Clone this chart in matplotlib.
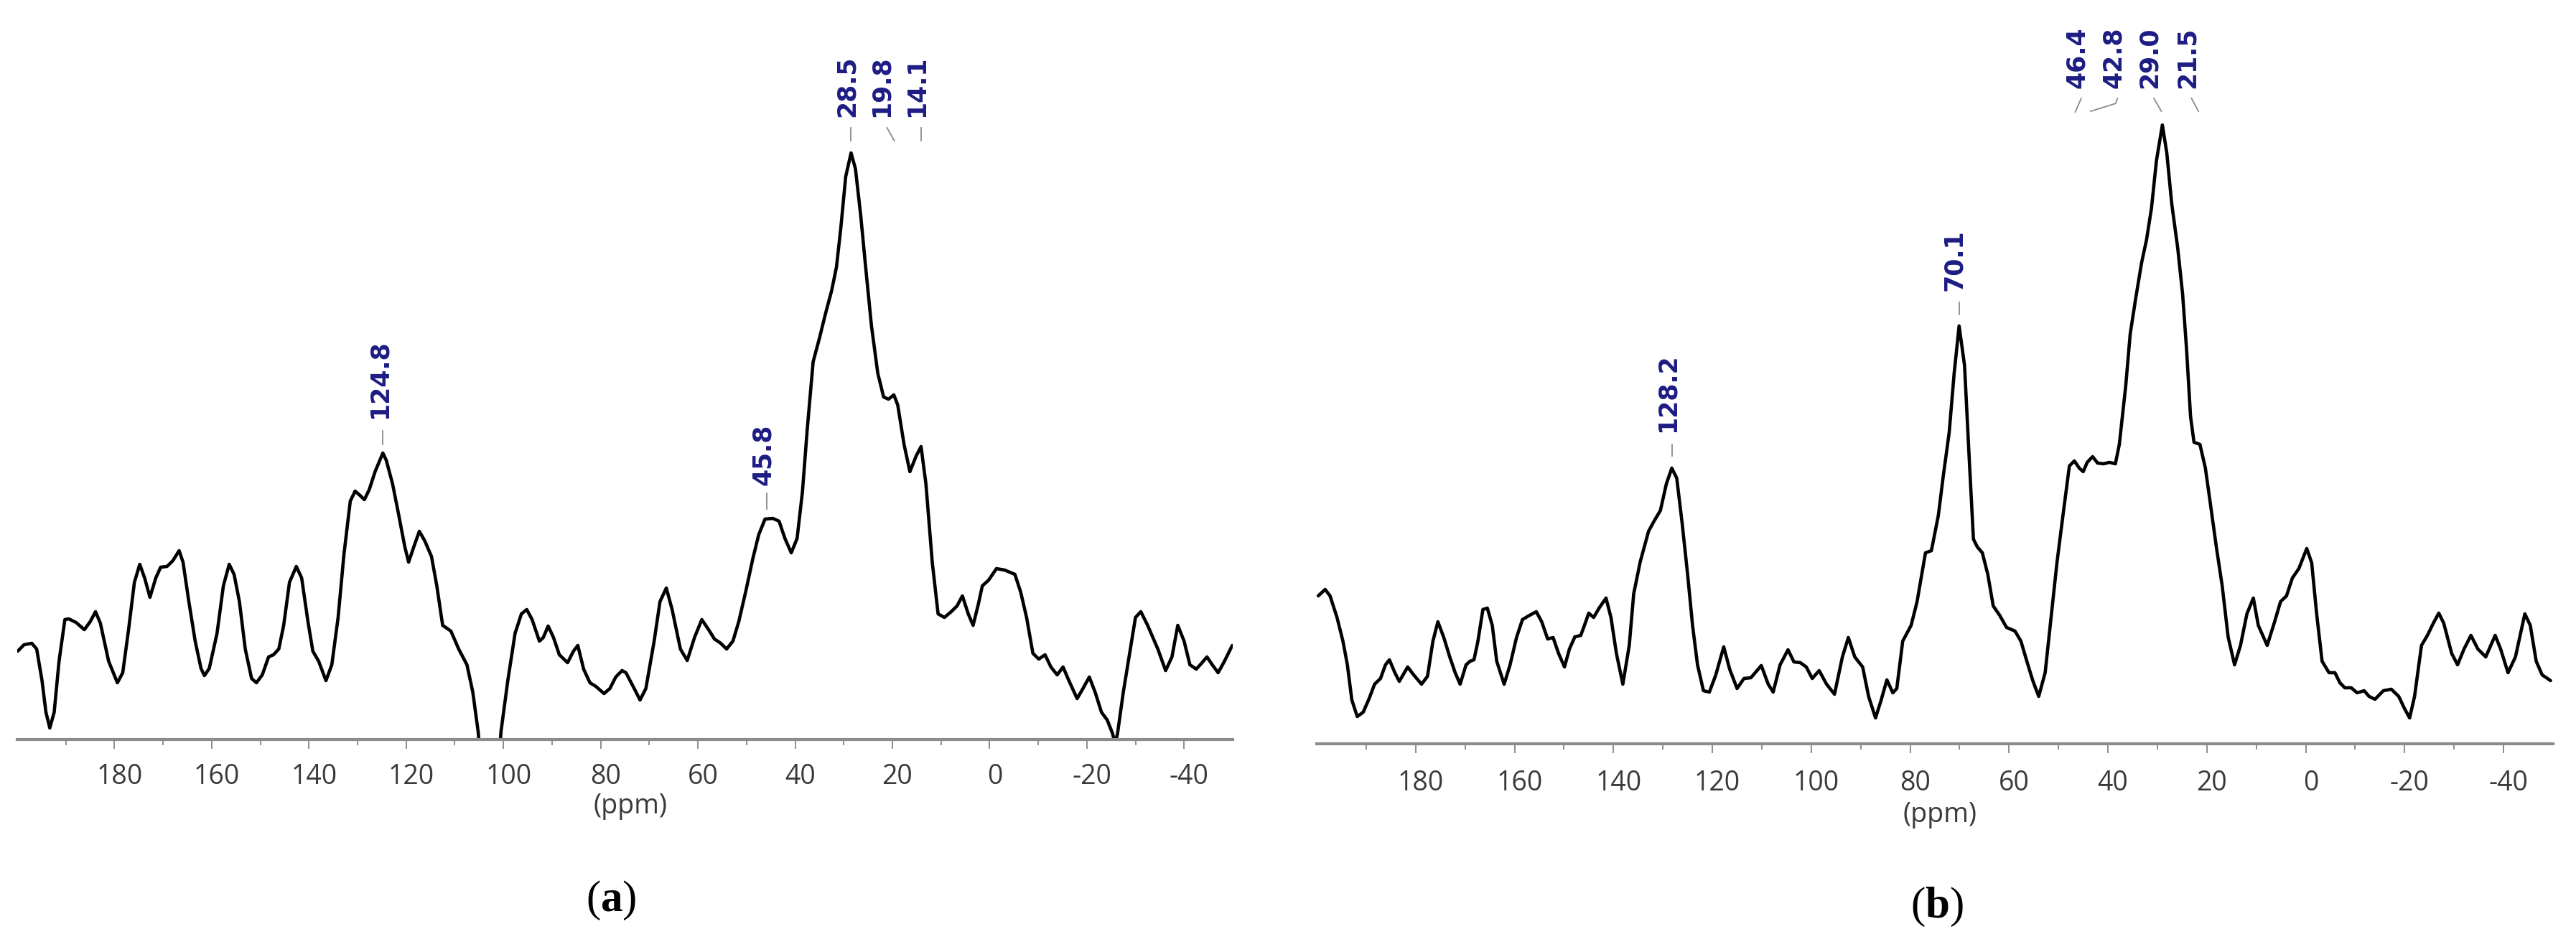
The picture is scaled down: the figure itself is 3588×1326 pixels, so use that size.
import matplotlib
matplotlib.use("Agg")
import matplotlib.pyplot as plt
from matplotlib.transforms import ScaledTranslation

# ---------------- data ----------------
ppm_a = [199.9, 198.6, 197.0, 196.0, 194.9, 194.1, 193.3, 192.4, 191.4, 190.2,
         189.4, 187.9, 186.2, 185.0, 183.9, 182.9, 181.2, 179.4, 178.3, 177.1,
         175.9, 174.8, 173.8, 172.7, 171.5, 170.5, 169.2, 168.0, 166.7, 165.9,
         164.7, 163.4, 162.2, 161.5, 160.5, 158.9, 157.6, 156.4, 155.4, 154.3,
         153.1, 151.8, 150.8, 149.6, 148.3, 147.3, 146.2, 145.2, 144.0, 142.6,
         141.5, 140.2, 139.2, 138.0, 136.5, 135.3, 134.0, 132.8, 131.5, 130.5,
         129.5, 128.6, 127.6, 126.4, 124.8, 124.1, 122.8, 121.6, 120.3, 119.5,
         118.4, 117.3, 116.2, 114.8, 113.7, 112.5, 110.8, 109.2, 107.5, 106.3,
         105.2, 104.5, 103.0, 102.0, 101.0, 100.5, 99.1, 97.6, 96.3, 95.2,
         94.1, 92.6, 91.8, 90.8, 89.7, 88.5, 86.8, 85.6, 84.7, 83.5,
         82.2, 81.0, 79.3, 78.1, 76.9, 75.6, 74.8, 73.1, 71.9, 70.7,
         69.0, 67.8, 66.5, 65.3, 63.6, 62.2, 60.7, 59.2, 57.8, 56.6,
         55.3, 54.1, 52.8, 51.6, 50.1, 48.7, 47.5, 46.2, 44.6, 43.3,
         42.1, 40.8, 39.6, 38.5, 37.5, 36.3, 35.0, 33.8, 32.5, 31.5,
         30.6, 29.6, 28.5, 27.6, 26.5, 25.5, 24.3, 23.0, 21.8, 20.8,
         19.7, 18.9, 17.6, 16.4, 15.1, 14.1, 13.1, 11.8, 10.6, 9.3,
         7.9, 6.7, 5.6, 4.4, 3.4, 2.3, 1.5, 0.2, -1.4, -3.1,
         -5.2, -6.4, -7.6, -8.9, -10.1, -11.4, -12.6, -13.9, -15.1, -16.3,
         -18.0, -19.2, -20.5, -21.7, -23.0, -24.2, -25.3, -25.8, -26.3, -27.5,
         -28.8, -30.0, -31.1, -32.5, -34.6, -36.2, -37.5, -38.7, -40.0, -41.2,
         -42.5, -43.7, -44.7, -45.8, -47.0, -48.3, -49.9]
int_a = [123, 132, 134, 126, 82, 38, 16, 38, 109, 167,
         168, 163, 153, 164, 178, 162, 109, 79, 93, 153,
         219, 244, 225, 198, 225, 240, 241, 249, 263, 247,
         192, 137, 99, 89, 99, 148, 214, 244, 230, 192,
         126, 85, 79, 90, 115, 118, 126, 159, 219, 241,
         225, 164, 123, 109, 82, 104, 170, 258, 332, 346,
         340, 334, 348, 373, 399, 389, 356, 315, 269, 247,
         269, 290, 277, 255, 214, 159, 151, 126, 104, 66,
         11, -40, -150, -150, -40, 11, 82, 148, 175, 181,
         167, 137, 142, 158, 142, 118, 107, 123, 131, 98,
         79, 74, 64, 71, 87, 96, 93, 71, 55, 71,
         137, 192, 211, 181, 126, 110, 142, 167, 153, 140,
         134, 126, 137, 164, 208, 252, 285, 307, 308, 304,
         280, 260, 280, 345, 433, 526, 559, 592, 625, 658,
         713, 784, 817, 795, 729, 658, 576, 510, 477, 474,
         480, 466, 411, 373, 395, 408, 356, 247, 175, 170,
         178, 186, 200, 175, 159, 189, 214, 222, 238, 236,
         230, 205, 170, 120, 112, 118, 101, 90, 101, 82,
         57, 71, 87, 66, 38, 27, 8, -6, 8, 66,
         120, 170, 178, 159, 126, 96, 115, 159, 137, 104,
         98, 107, 115, 104, 93, 109, 131]

ppm_b = [199.7, 198.3, 197.3, 195.9, 194.7, 193.8, 192.9, 191.8, 190.6, 189.4,
         188.3, 187.1, 186.1, 185.3, 184.2, 183.3, 181.6, 180.4, 178.8, 177.6,
         176.5, 175.5, 174.3, 173.1, 172.0, 171.0, 169.8, 169.0, 168.2, 167.4,
         166.4, 165.5, 164.5, 163.6, 162.1, 160.9, 159.6, 158.4, 157.2, 155.6,
         154.5, 153.3, 152.2, 151.1, 149.9, 148.9, 147.8, 146.6, 145.6, 145.0,
         144.0, 142.9, 141.5, 140.5, 139.4, 138.1, 136.8, 135.9, 134.6, 132.9,
         131.8, 130.5, 129.3, 128.2, 127.2, 126.1, 125.0, 124.0, 123.0, 121.8,
         120.6, 119.3, 117.7, 116.5, 115.0, 113.6, 112.2, 110.1, 108.7, 107.7,
         106.3, 104.7, 103.5, 102.2, 101.0, 99.8, 98.4, 96.9, 95.3, 93.7,
         92.5, 91.2, 89.6, 88.4, 87.0, 85.9, 84.7, 83.5, 82.7, 81.5,
         79.8, 78.6, 76.9, 75.7, 74.3, 73.3, 72.1, 71.1, 70.1, 69.0,
         68.0, 67.2, 66.4, 65.4, 64.3, 63.2, 61.9, 60.5, 58.8, 57.6,
         56.4, 55.2, 54.0, 52.7, 51.5, 50.3, 49.1, 47.8, 46.8, 45.8,
         45.0, 44.2, 43.1, 42.1, 40.9, 39.7, 38.5, 37.7, 36.4, 35.5,
         34.4, 33.2, 32.2, 31.2, 30.2, 29.0, 28.1, 27.1, 25.9, 24.9,
         24.1, 23.3, 22.6, 21.4, 20.3, 19.3, 18.1, 16.9, 15.7, 14.4,
         13.2, 11.9, 10.6, 9.6, 7.8, 6.3, 5.1, 3.9, 2.7, 1.4,
         -0.2, -1.2, -2.2, -3.3, -4.7, -5.9, -6.9, -7.9, -9.2, -10.4,
         -11.8, -12.8, -14.0, -15.7, -17.3, -18.8, -19.9, -21.0, -22.0, -23.4,
         -24.6, -25.8, -26.9, -27.9, -29.5, -30.7, -32.0, -33.4, -34.8, -36.4,
         -38.3, -39.4, -40.9, -42.4, -44.3, -45.4, -46.6, -47.8, -49.5]
int_b = [206, 215, 206, 176, 143, 110, 61, 38, 44, 63,
         83, 91, 110, 117, 99, 87, 107, 96, 83, 94,
         143, 170, 148, 121, 99, 83, 110, 115, 117, 143,
         187, 189, 165, 115, 83, 110, 148, 173, 178, 184,
         170, 146, 148, 126, 107, 132, 149, 151, 170, 182,
         176, 189, 203, 176, 126, 83, 137, 209, 253, 296,
         310, 325, 362, 384, 370, 307, 236, 165, 110, 74,
         72, 96, 135, 104, 77, 91, 92, 109, 83, 72,
         110, 131, 114, 113, 107, 91, 102, 83, 69, 121,
         148, 121, 107, 66, 36, 60, 89, 71, 77, 143,
         165, 198, 266, 269, 318, 373, 434, 516, 582, 527,
         390, 285, 274, 266, 236, 192, 179, 162, 157, 143,
         115, 88, 66, 99, 176, 253, 318, 387, 394, 384,
         379, 392, 400, 391, 390, 392, 390, 417, 499, 571,
         620, 670, 702, 746, 812, 862, 823, 752, 691, 626,
         549, 456, 420, 417, 384, 335, 275, 220, 149, 110,
         137, 181, 203, 165, 137, 170, 198, 206, 231, 244,
         272, 252, 181, 115, 99, 99, 85, 78, 78, 71,
         74, 66, 62, 74, 76, 66, 50, 36, 66, 137,
         151, 168, 182, 168, 126, 110, 132, 151, 132, 121,
         151, 132, 99, 121, 181, 165, 115, 96, 88]

tick_values = [180, 160, 140, 120, 100, 80, 60, 40, 20, 0, -20, -40]
tick_labels = ["180", "160", "140", "120", "100", "80", "60", "40", "20", "0", "-20", "-40"]
minor_values = [190, 170, 150, 130, 110, 90, 70, 50, 30, 10, -10, -30]

# peak labels: text, peak ppm
labels_a = ["124.8", "45.8", "28.5", "19.8", "14.1"]
peaks_a = [124.8, 45.8, 28.5, 19.8, 14.1]
labels_b = ["128.2", "70.1", "46.4", "42.8", "29.0", "21.5"]
peaks_b = [128.2, 70.1, 46.4, 42.8, 29.0, 21.5]

# ---------------- layout of annotations ----------------
# leader polyline (ppm, height) from near peak to under text; text centre ppm; text bottom height
lead_a = [
    [(124.8, 411), (124.8, 430)],
    [(45.8, 321), (45.8, 343)],
    [(28.5, 834), (28.5, 852)],
    [(19.6, 834), (21.1, 852)],
    [(14.1, 834), (14.1, 852)],
]
text_x_a = [125.5, 46.6, 29.3, 22.2, 14.9]
text_y_a = [447, 354, 867, 867, 867]

lead_b = [
    [(128.2, 401), (128.2, 417)],
    [(70.1, 598), (70.1, 615)],
    [(46.6, 880), (45.4, 899)],
    [(43.5, 881), (38.4, 892), (38.1, 899)],
    [(29.2, 881), (30.7, 899)],
    [(21.7, 881), (23.1, 899)],
]
text_x_b = [129.1, 71.0, 46.2, 38.9, 31.6, 24.0]
text_y_b = [434, 631, 913, 913, 913, 913]

W, H = 3588, 1326
fig = plt.figure(figsize=(W / 100, H / 100), dpi=100)
fig.patch.set_facecolor("white")

plt.rcParams["mathtext.fontset"] = "custom"
plt.rcParams["mathtext.rm"] = "Liberation Serif"
plt.rcParams["mathtext.bf"] = "Liberation Serif:bold"

LABEL_COLOR = "#1c1c84"
LEADER_COLOR = "#8a8a8a"
AXIS_COLOR = "#8c8c8c"
TICK_TEXT = "#3a3a3a"


def panel(left_px, right_px, base_px, ppm, inten, labels, leads, tx, ty,
          tick_pad, ppm_lab_x, ppm_lab_dy, tag, tag_x, tag_dy):
    ax = fig.add_axes([left_px / W, (H - base_px) / H,
                       (right_px - left_px) / W, base_px / H])
    ax.set_xlim(200, -50)
    ax.set_ylim(0, base_px)
    ax.patch.set_alpha(0)
    ax.plot(ppm, inten, color="black", lw=3.3, solid_joinstyle="round",
            solid_capstyle="round", zorder=2)
    for s in ("top", "left", "right"):
        ax.spines[s].set_visible(False)
    ax.spines["bottom"].set_color(AXIS_COLOR)
    ax.spines["bottom"].set_linewidth(3.0)
    ax.spines["bottom"].set_zorder(3)
    ax.set_yticks([])
    ax.set_xticks(tick_values)
    ax.set_xticklabels(tick_labels)
    ax.set_xticks(minor_values, minor=True)
    ax.tick_params(axis="x", which="major", direction="out", length=9.5,
                   width=1.4, color=AXIS_COLOR, pad=tick_pad,
                   labelsize=27, labelcolor=TICK_TEXT)
    ax.tick_params(axis="x", which="minor", direction="out", length=6,
                   width=1.4, color=AXIS_COLOR)
    off = ScaledTranslation(7 / 100, 0, fig.dpi_scale_trans)
    for lab in ax.get_xticklabels():
        lab.set_fontfamily("Open Sans")
        lab.set_transform(lab.get_transform() + off)
    ax.text(ppm_lab_x, -ppm_lab_dy, "(ppm)", ha="center", va="center",
            fontsize=27, color=TICK_TEXT, family="Open Sans", clip_on=False)
    ax.text(tag_x, -tag_dy, "($\\mathbf{" + tag + "}$)", ha="center", va="center",
            fontsize=44, color="black", family="Liberation Serif", clip_on=False)
    for lab, lead, x, y in zip(labels, leads, tx, ty):
        xs = [p[0] for p in lead]
        ys = [p[1] for p in lead]
        ax.plot(xs, ys, color=LEADER_COLOR, lw=1.3, zorder=1, clip_on=False)
        ax.text(x, y, lab, rotation=90, ha="center", va="bottom",
                fontsize=25, fontweight="bold", family="DejaVu Sans",
                color=LABEL_COLOR, clip_on=False)
    return ax


panel(24, 1717, 1030, ppm_a, int_a, labels_a, lead_a, text_x_a, text_y_a,
      tick_pad=14.5, ppm_lab_x=73.9, ppm_lab_dy=93, tag="a", tag_x=77.9, tag_dy=224)
panel(1834, 3556, 1036, ppm_b, int_b, labels_b, lead_b, text_x_b, text_y_b,
      tick_pad=16.5, ppm_lab_x=74.0, ppm_lab_dy=99, tag="b", tag_x=74.6, tag_dy=227)

fig.savefig("out.png", dpi=100, facecolor="white")
